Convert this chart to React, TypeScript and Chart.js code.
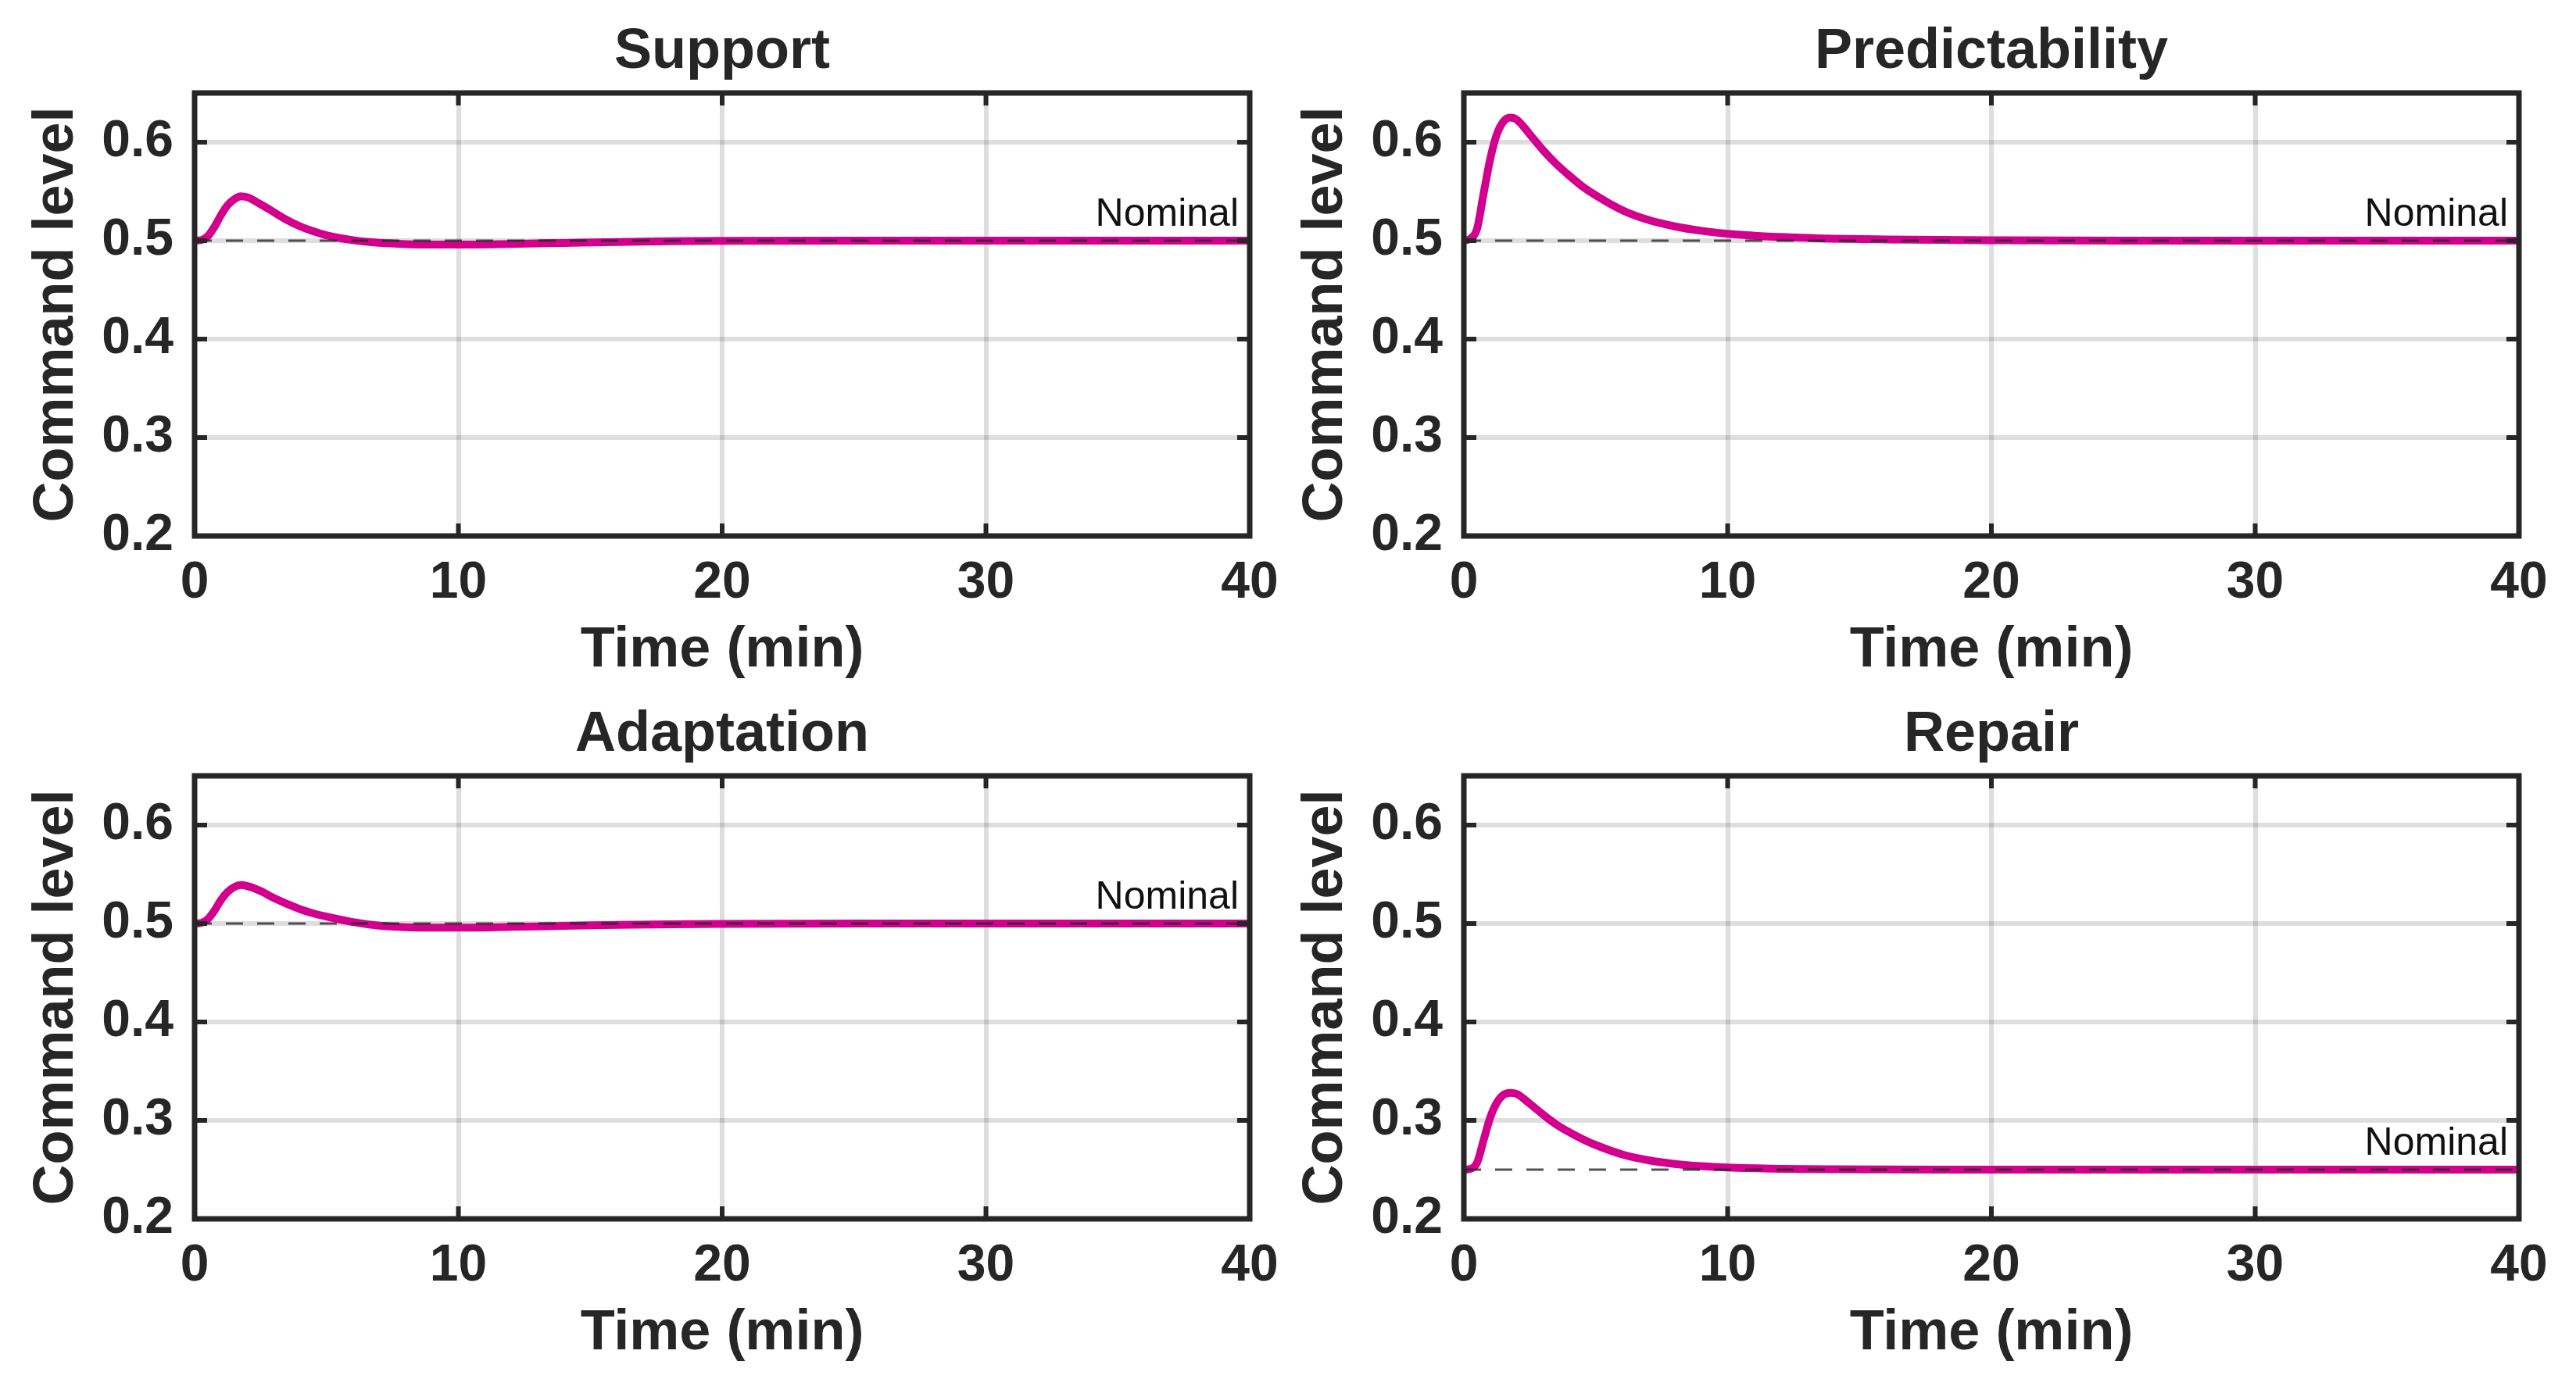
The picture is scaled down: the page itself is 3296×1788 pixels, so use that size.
import React, { useEffect, useRef } from 'react';
import { Chart, registerables } from 'chart.js';

Chart.register(...registerables);

// ---- data ----
const TIME = [0, 0.25, 0.5, 0.75, 1, 1.25, 1.5, 1.75, 2, 2.5, 3, 3.5, 4, 4.5, 5, 6, 7, 8, 9, 10, 12, 14, 16, 18, 20, 25, 30, 35, 40];

const SUPPORT = [0.5, 0.5006, 0.5045, 0.514, 0.526, 0.536, 0.542, 0.545, 0.544, 0.537, 0.529, 0.521, 0.5145, 0.5095, 0.5055, 0.5005, 0.4978, 0.4965, 0.496, 0.496, 0.4967, 0.4977, 0.4987, 0.4994, 0.4998, 0.5, 0.5, 0.5, 0.5];
const PREDICTABILITY = [0.5, 0.502, 0.512, 0.548, 0.583, 0.608, 0.621, 0.625, 0.623, 0.608, 0.592, 0.578, 0.566, 0.555, 0.546, 0.531, 0.521, 0.5145, 0.51, 0.507, 0.5037, 0.502, 0.5012, 0.5007, 0.5004, 0.5, 0.5, 0.5, 0.5];
const ADAPTATION = [0.5, 0.5006, 0.5045, 0.513, 0.524, 0.532, 0.537, 0.539, 0.538, 0.533, 0.526, 0.52, 0.5145, 0.5103, 0.507, 0.5015, 0.4978, 0.4962, 0.4958, 0.4958, 0.4966, 0.4976, 0.4986, 0.4993, 0.4997, 0.5, 0.5, 0.5, 0.5];
const REPAIR = [0.25, 0.2508, 0.257, 0.28, 0.303, 0.318, 0.326, 0.328, 0.327, 0.317, 0.306, 0.296, 0.288, 0.281, 0.275, 0.2655, 0.2595, 0.2558, 0.2535, 0.2521, 0.2508, 0.2503, 0.2501, 0.25, 0.25, 0.25, 0.25, 0.25, 0.25];

const PANEL_TITLES = ['Support', 'Predictability', 'Adaptation', 'Repair'];
const PANEL_SERIES = [SUPPORT, PREDICTABILITY, ADAPTATION, REPAIR];
const NOMINALS = [0.5, 0.5, 0.5, 0.25];
const NOMINAL_LABEL = 'Nominal';

const X_TICKS = [0, 10, 20, 30, 40];
const Y_TICKS = [0.2, 0.3, 0.4, 0.5, 0.6];
const X_MIN = 0;
const X_MAX = 40;
const Y_MIN = 0.2;
const Y_MAX = 0.65;
const X_TITLE = 'Time (min)';
const Y_TITLE = 'Command level';

// ---- style ----
const FONT = "'Liberation Sans', Arial, Helvetica, sans-serif";
const TEXT = '#262626';
const MAGENTA = '#d2008c';
const CANVAS_W = 1648;
const CANVAS_H = 900;
const PANEL_POS = [
  { left: 0, top: 0 },
  { left: 1624, top: 0 },
  { left: 0, top: 874 },
  { left: 1624, top: 874 },
];

function Panel({ title, values, nominal, left, top }: { title: string; values: number[]; nominal: number; left: number; top: number }) {
  const ref = useRef<HTMLCanvasElement | null>(null);

  useEffect(() => {
    if (!ref.current) return;
    const framePlugin = {
      id: 'frame' + title,
      afterDraw(chart: any) {
        const { ctx, chartArea } = chart;
        const { left: l, right: r, top: t, bottom: b } = chartArea;
        const xs = chart.scales.x;
        const ys = chart.scales.y;
        ctx.save();
        ctx.strokeStyle = TEXT;
        ctx.lineWidth = 7;
        ctx.lineJoin = 'miter';
        ctx.strokeRect(l, t, r - l, b - t);
        ctx.lineWidth = 6;
        ctx.lineCap = 'butt';
        const seg = (x1: number, y1: number, x2: number, y2: number) => {
          ctx.beginPath();
          ctx.moveTo(x1, y1);
          ctx.lineTo(x2, y2);
          ctx.stroke();
        };
        for (const v of X_TICKS) {
          const px = xs.getPixelForValue(v);
          seg(px, b, px, b - 16);
          seg(px, t, px, t + 16);
        }
        for (const v of Y_TICKS) {
          const py = ys.getPixelForValue(v);
          seg(l, py, l + 16, py);
          seg(r, py, r - 16, py);
        }
        ctx.font = `50px ${FONT}`;
        ctx.fillStyle = '#111111';
        ctx.textAlign = 'right';
        ctx.textBaseline = 'alphabetic';
        ctx.fillText(NOMINAL_LABEL, r - 14, ys.getPixelForValue(nominal) - 19);
        ctx.restore();
      },
    };

    const tickFont = { family: FONT, size: 66, weight: 'bold' as const };
    const xTickFont = { family: FONT, size: 66, weight: 'bold' as const, lineHeight: 1.84 };
    const titleFont = { family: FONT, size: 72, weight: 'bold' as const, lineHeight: 1.2 };

    const chart = new Chart(ref.current, {
      type: 'line',
      data: {
        datasets: [
          {
            data: TIME.map((t, i) => ({ x: t, y: values[i] })),
            borderColor: MAGENTA,
            borderWidth: 10,
            pointRadius: 0,
            cubicInterpolationMode: 'monotone',
            borderCapStyle: 'round',
            borderJoinStyle: 'round',
            order: 1,
          },
          {
            data: [
              { x: X_MIN, y: nominal },
              { x: X_MAX, y: nominal },
            ],
            borderColor: 'rgba(40,40,40,0.8)',
            borderWidth: 3,
            borderDash: [22, 18],
            pointRadius: 0,
            order: 0,
          },
        ],
      },
      options: {
        responsive: false,
        maintainAspectRatio: false,
        animation: false,
        devicePixelRatio: 1,
        layout: { padding: { left: 0, right: 49, top: 0, bottom: 0 } },
        plugins: {
          legend: { display: false },
          tooltip: { enabled: false },
          title: {
            display: true,
            fullSize: false,
            text: title,
            color: TEXT,
            font: titleFont,
            padding: { top: 24, bottom: 8.6 },
          },
        },
        scales: {
          x: {
            type: 'linear',
            min: X_MIN,
            max: X_MAX,
            afterBuildTicks: (s: any) => {
              s.ticks = X_TICKS.map((v) => ({ value: v }));
            },
            afterFit: (s: any) => {
              s.height = 214;
            },
            grid: { color: 'rgba(0,0,0,0.13)', lineWidth: 6, drawTicks: false },
            border: { display: false },
            ticks: {
              padding: 0,
              color: TEXT,
              font: xTickFont,
              maxRotation: 0,
              autoSkip: false,
              callback: (v: any) => String(v),
            },
            title: {
              display: true,
              text: X_TITLE,
              color: TEXT,
              font: titleFont,
              padding: { top: 0, bottom: 24 },
            },
          },
          y: {
            type: 'linear',
            min: Y_MIN,
            max: Y_MAX,
            afterBuildTicks: (s: any) => {
              s.ticks = Y_TICKS.map((v) => ({ value: v }));
            },
            afterFit: (s: any) => {
              s.width = 249;
            },
            grid: { color: 'rgba(0,0,0,0.13)', lineWidth: 6, drawTicks: false },
            border: { display: false },
            ticks: {
              padding: 27,
              color: TEXT,
              font: tickFont,
              autoSkip: false,
              callback: (v: any) => Number(v).toFixed(1),
            },
            title: {
              display: true,
              text: Y_TITLE,
              color: TEXT,
              font: titleFont,
              padding: { top: 30, bottom: 0 },
            },
          },
        },
      },
      plugins: [framePlugin],
    } as any);
    return () => chart.destroy();
  }, [title, values, nominal]);

  return (
    <canvas
      ref={ref}
      width={CANVAS_W}
      height={CANVAS_H}
      style={{ position: 'absolute', left, top, width: CANVAS_W, height: CANVAS_H }}
    />
  );
}

export default function App() {
  return (
    <div style={{ position: 'absolute', left: 0, top: 0, width: 3296, height: 1788, background: '#ffffff', overflow: 'hidden' }}>
      {PANEL_TITLES.map((t, i) => (
        <Panel key={t} title={t} values={PANEL_SERIES[i]} nominal={NOMINALS[i]} left={PANEL_POS[i].left} top={PANEL_POS[i].top} />
      ))}
    </div>
  );
}
